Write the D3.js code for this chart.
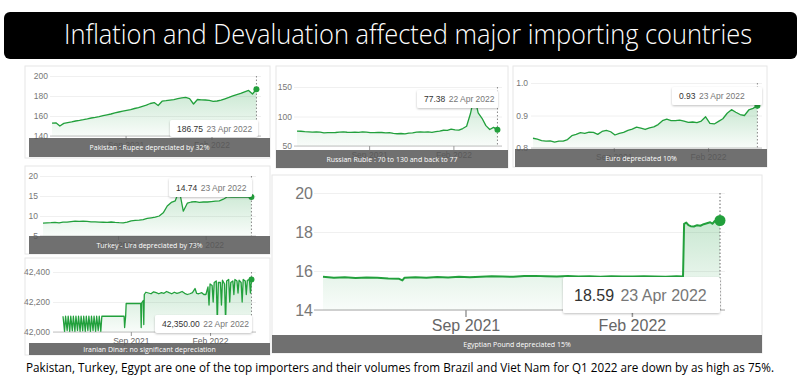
<!DOCTYPE html>
<html>
<head>
<meta charset="utf-8">
<script src="https://cdn.jsdelivr.net/npm/d3@7"></script>
<style>
body { margin: 0; background: #fff; }
svg { display: block; }
</style>
</head>
<body>
<div id="chart"></div>
<script>
var svgWidth = 800;
var svgHeight = 388;

var titleText = "Inflation and Devaluation affected major importing countries";
var footText = "Pakistan, Turkey, Egypt are one of the top importers and their volumes from Brazil and Viet Nam for Q1 2022 are down by as high as 75%.";

var startDate = new Date(2021, 3, 23);
var endDate = new Date(2022, 3, 23);
var tickDates = [new Date(2021, 8, 1), new Date(2022, 1, 1)];

// weekly closes from 23 Apr 2021 (one per week, 53 points)
var pkrValues = [152.8, 153.2, 150.0, 152.6, 153.4, 154.1, 155.0, 155.6, 156.3, 157.1,
    158.0, 158.6, 159.4, 160.3, 161.2, 162.0, 163.1, 164.0, 164.8, 165.6,
    166.4, 167.5, 168.4, 169.6, 170.8, 172.5, 173.4, 170.5, 174.8, 175.3,
    175.9, 176.4, 177.3, 178.1, 178.6, 177.4, 172.0, 176.5, 176.2, 176.0,
    175.6, 174.7, 175.0, 175.8, 177.2, 178.6, 180.1, 181.4, 182.6, 184.2,
    185.6, 182.0, 186.75];

var rubValues = [75.3, 75.0, 74.2, 74.0, 73.6, 73.9, 73.4, 72.3, 72.6,
    72.5, 72.9, 73.6, 73.8, 73.3, 73.2, 73.6, 73.0, 74.0,
    73.6, 72.8, 72.7, 72.9, 72.9, 72.4, 72.5, 71.4, 70.8,
    71.2, 70.6, 71.7, 72.3, 73.6, 74.0, 73.5, 73.8, 73.2,
    74.3, 75.3, 76.7, 76.4, 78.5, 77.2, 76.8, 79.6,
    83.5, 105.0, 135.0, 106.0, 97.0, 84.5, 78.0, 81.5, 77.38];

var eurValues = [0.830, 0.827, 0.823, 0.821, 0.822, 0.818, 0.821, 0.821, 0.826, 0.838,
    0.842, 0.847, 0.845, 0.849, 0.848, 0.842, 0.851, 0.854, 0.850, 0.840,
    0.845, 0.848, 0.854, 0.858, 0.864, 0.861, 0.857, 0.862, 0.865, 0.872,
    0.884, 0.889, 0.884, 0.884, 0.886, 0.883, 0.879, 0.880, 0.878, 0.883,
    0.896, 0.876, 0.874, 0.882, 0.890, 0.907, 0.918, 0.910, 0.903, 0.900,
    0.917, 0.922, 0.930];

var tryValues = [8.20, 8.28, 8.33, 8.42, 8.30, 8.45, 8.45, 8.60, 8.72, 8.65,
    8.70, 8.65, 8.55, 8.55, 8.48, 8.44, 8.40, 8.50, 8.40, 8.33,
    8.30, 8.45, 8.80, 8.90, 8.95, 9.10, 9.40, 9.55, 9.70, 10.0,
    10.8, 12.5, 13.4, 13.8, 16.5, 11.2, 13.2, 13.5, 13.6, 13.4,
    13.5, 13.5, 13.6, 13.7, 13.8, 14.2, 14.8, 14.7, 14.8, 14.7,
    14.7, 14.75, 14.74];

// irregular series: day offset from 23 Apr 2021 and value
var irrDays = [0, 3, 5, 8, 10, 13, 15, 18, 20, 23, 25, 28, 30, 33, 35, 38, 40, 43, 45, 48,
    50, 53, 55, 58, 60, 63, 65, 68, 70, 73, 75,
    100, 118, 119, 121, 122, 140, 150, 151, 152, 155, 156, 157, 160, 165, 170, 175, 180,
    185, 190, 195, 200, 205, 210, 215, 220, 225, 230, 235, 240, 245, 250, 255, 258, 262,
    268, 272, 276,
    280, 282, 284, 288, 290, 292, 296, 298, 300, 304, 306, 308, 312, 314, 316, 320, 322,
    324, 328, 330, 332, 336, 338, 340, 344, 346, 348, 352, 354, 356, 360, 362, 364];
var irrValues = [42105, 42005, 42105, 42010, 42105, 42005, 42105, 42008, 42105, 42005,
    42105, 42010, 42105, 42005, 42105, 42008, 42105, 42005, 42105, 42010,
    42105, 42005, 42105, 42010, 42105, 42005, 42105, 42010, 42105, 42005, 42105,
    42105, 42105, 42030, 42105, 42190, 42190, 42190, 42030, 42195, 42210, 42050, 42250,
    42265, 42260, 42255, 42268, 42262, 42255, 42262, 42258, 42270, 42262, 42255, 42265,
    42258, 42262, 42270, 42258, 42250, 42255, 42262, 42290, 42258, 42255,
    42262, 42250, 42250,
    42300, 42180, 42320, 42310, 42200, 42330, 42340, 42060, 42330, 42330, 42180, 42345,
    42320, 42060, 42340, 42350, 42200, 42330, 42340, 42250, 42350, 42340, 42260, 42345,
    42330, 42200, 42350, 42340, 42250, 42345, 42350, 42260, 42350];

var egpDays = [0, 10, 20, 30, 40, 50, 60, 70, 73, 75, 85, 95, 105, 115, 125, 135, 145,
    155, 165, 175, 185, 195, 205, 215, 225, 235, 245, 255, 265, 275, 285, 295, 305,
    315, 325, 331, 332, 334, 336, 338, 341, 344, 347, 350, 353, 356, 358, 360, 362, 365];
var egpValues = [15.70, 15.66, 15.68, 15.64, 15.67, 15.66, 15.62, 15.60, 15.52, 15.66,
    15.68, 15.65, 15.69, 15.67, 15.70, 15.68, 15.71, 15.73, 15.72, 15.70,
    15.74, 15.75, 15.73, 15.72, 15.74, 15.72, 15.73, 15.71, 15.73, 15.72,
    15.72, 15.73, 15.72, 15.71, 15.73, 15.72, 18.42, 18.48, 18.35, 18.30,
    18.28, 18.35, 18.32, 18.40, 18.45, 18.50, 18.42, 18.55, 18.60, 18.59];

function weekly(values) {
    return values.map((v, i) => ({ date: d3.timeDay.offset(startDate, i * 7), value: v }));
}
function byDay(days, values) {
    return days.map((d, i) => ({ date: d3.timeDay.offset(startDate, d), value: values[i] }));
}

var panels = [
    { data: weekly(pkrValues), yDomain: [140, 200], yTicks: [140, 160, 180, 200], fmt: d3.format("d"),
      x0: 52, x1: 257, yTop: 76, yBot: 136, gridLeft: 50, pad: 2, fs: 8.5,
      tip: [170, 120, 258, 137], tipVal: "186.75", tipDate: "23 Apr 2022", tfs: 8.5,
      bar: [29, 138, 270, 157], caption: "Pakistan : Rupee depreciated by 32%", frame: [25, 66, 270, 158] },
    { data: weekly(rubValues), yDomain: [50, 150], yTicks: [50, 100, 150], fmt: d3.format("d"),
      x0: 297, x1: 498, yTop: 87, yBot: 146, gridLeft: 294, pad: 2, fs: 8.5,
      tip: [417, 90, 498, 108], tipVal: "77.38", tipDate: "22 Apr 2022", tfs: 8.5,
      bar: [276, 150, 508, 168], caption: "Russian Ruble : 70 to 130 and back to 77", frame: [276, 66, 508, 168] },
    { data: weekly(eurValues), yDomain: [0.8, 1.0], yTicks: [0.8, 0.9, 1.0], fmt: d3.format(".1f"),
      x0: 533, x1: 758, yTop: 83, yBot: 148, gridLeft: 531, pad: 3, fs: 8.5,
      tip: [672, 87, 762, 105], tipVal: "0.93", tipDate: "23 Apr 2022", tfs: 8.5,
      bar: [515, 149, 767, 167], caption: "Euro depreciated 10%", frame: [513, 66, 767, 167] },
    { data: weekly(tryValues), yDomain: [5, 20], yTicks: [5, 10, 15, 20], fmt: d3.format("d"),
      x0: 43, x1: 252, yTop: 176, yBot: 236, gridLeft: 40, pad: 2, fs: 8.5,
      tip: [169, 178, 252, 197], tipVal: "14.74", tipDate: "23 Apr 2022", tfs: 8.5,
      bar: [29, 236, 270, 254], caption: "Turkey - Lira  depreciated by 73%", frame: [25, 166, 270, 254] },
    { data: byDay(irrDays, irrValues), yDomain: [42000, 42400], yTicks: [42000, 42200, 42400], fmt: d3.format(","),
      x0: 63, x1: 252, yTop: 272, yBot: 332, gridLeft: 53, pad: 3, fs: 8.5,
      tip: [155, 315, 252, 333], tipVal: "42,350.00", tipDate: "22 Apr 2022", tfs: 8.5,
      bar: [29, 343, 270, 355], caption: "Iranian Dinar: no significant depreciation", frame: [25, 258, 270, 355] },
    { data: byDay(egpDays, egpValues), yDomain: [14, 20], yTicks: [14, 16, 18, 20], fmt: d3.format("d"),
      x0: 323, x1: 720, yTop: 193, yBot: 310, gridLeft: 314, pad: 1, fs: 16, big: true,
      tip: [563, 277, 720, 313], tipVal: "18.59", tipDate: "23 Apr 2022", tfs: 16,
      bar: [272, 335, 762, 353], caption: "Egyptian Pound  depreciated 15%", frame: [272, 175, 762, 353] }
];

var svg = d3.select("#chart")
    .append("svg")
    .attr("width", svgWidth)
    .attr("height", svgHeight);

var defs = svg.append("defs");
var grad = defs.append("linearGradient")
    .attr("id", "fillGrad")
    .attr("x1", 0).attr("y1", 0).attr("x2", 0).attr("y2", 1);
grad.append("stop").attr("offset", "0%").attr("stop-color", "#2ea44f").attr("stop-opacity", 0.26);
grad.append("stop").attr("offset", "100%").attr("stop-color", "#2ea44f").attr("stop-opacity", 0.03);

var shadow = defs.append("filter").attr("id", "tipShadow")
    .attr("x", "-20%").attr("y", "-30%").attr("width", "140%").attr("height", "160%");
shadow.append("feDropShadow").attr("dx", 0).attr("dy", 1).attr("stdDeviation", 1.2)
    .attr("flood-color", "#000").attr("flood-opacity", 0.25);

// title
svg.append("rect")
    .attr("x", 4).attr("y", 12)
    .attr("width", 793).attr("height", 47)
    .attr("rx", 6)
    .attr("fill", "#000");
svg.append("text")
    .attr("x", 408).attr("y", 44)
    .attr("text-anchor", "middle")
    .attr("textLength", 688)
    .attr("lengthAdjust", "spacingAndGlyphs")
    .style("font", "300 27px 'Open Sans', sans-serif")
    .attr("fill", "#fff")
    .text(titleText);

panels.forEach(drawPanel);

function drawPanel(p) {
    var g = svg.append("g");
    var labelFont = p.fs + "px 'Liberation Sans', Arial, sans-serif";

    var x = d3.scaleTime().domain([startDate, endDate]).range([p.x0, p.x1]);
    var y = d3.scaleLinear().domain(p.yDomain).range([p.yBot, p.yTop]);
    var gridRight = p.x1 + (p.big ? 5 : 4);

    g.append("rect")
        .attr("x", p.frame[0]).attr("y", p.frame[1])
        .attr("width", p.frame[2] - p.frame[0]).attr("height", p.frame[3] - p.frame[1])
        .attr("fill", "none")
        .attr("stroke", "#e6e6e6");

    // y gridlines + labels
    g.append("g")
        .attr("transform", `translate(${p.gridLeft},0)`)
        .call(d3.axisLeft(y).tickValues(p.yTicks).tickFormat(p.fmt)
            .tickSize(-(gridRight - p.gridLeft)).tickPadding(p.pad))
        .call(a => a.select(".domain").remove())
        .call(a => a.selectAll("line").attr("stroke", "#f0f0f0"))
        .call(a => a.selectAll("text").attr("fill", "#777").style("font", labelFont));

    // baseline
    g.append("line")
        .attr("x1", p.gridLeft).attr("x2", gridRight)
        .attr("y1", y(p.yDomain[0])).attr("y2", y(p.yDomain[0]))
        .attr("stroke", "#c4c4c4")
        .attr("stroke-width", p.big ? 1.5 : 1);

    // x axis ticks
    g.append("g")
        .attr("transform", `translate(0,${p.yBot})`)
        .call(d3.axisBottom(x).tickValues(tickDates).tickFormat(d3.timeFormat("%b %Y"))
            .tickSize(p.big ? 7 : 4).tickPadding(p.big ? 3 : 2))
        .call(a => a.select(".domain").remove())
        .call(a => a.selectAll("line").attr("stroke", "#999").attr("stroke-width", p.big ? 1.5 : 1))
        .call(a => a.selectAll("text").attr("fill", "#666").style("font", labelFont));

    var area = d3.area()
        .x(d => x(d.date))
        .y0(y(p.yDomain[0]))
        .y1(d => y(d.value));
    var line = d3.line()
        .x(d => x(d.date))
        .y(d => y(d.value));

    g.append("path")
        .datum(p.data)
        .attr("d", area)
        .attr("fill", "url(#fillGrad)");

    // end marker
    var last = p.data[p.data.length - 1];
    g.append("line")
        .attr("x1", x(last.date)).attr("x2", x(last.date))
        .attr("y1", p.yTop).attr("y2", p.yBot)
        .attr("stroke", "#888")
        .attr("stroke-width", p.big ? 1.3 : 1)
        .attr("stroke-dasharray", "1.5,2");

    g.append("path")
        .datum(p.data)
        .attr("d", line)
        .attr("fill", "none")
        .attr("stroke", "#22a03c")
        .attr("stroke-width", p.big ? 2 : 1.3)
        .attr("stroke-linejoin", "round");

    g.append("circle")
        .attr("cx", x(last.date))
        .attr("cy", y(last.value))
        .attr("r", p.big ? 5.5 : 3)
        .attr("fill", "#22a03c");

    // tooltip
    var t = p.tip;
    g.append("rect")
        .attr("x", t[0]).attr("y", t[1])
        .attr("width", t[2] - t[0]).attr("height", t[3] - t[1])
        .attr("rx", 2)
        .attr("fill", "#fff")
        .attr("filter", "url(#tipShadow)");
    var tt = g.append("text")
        .attr("x", t[0] + (p.big ? 11 : 7))
        .attr("y", (t[1] + t[3]) / 2 + p.tfs * 0.36)
        .style("font", p.tfs + "px 'Liberation Sans', Arial, sans-serif");
    tt.append("tspan").attr("fill", "#333").style("font-weight", 500).text(p.tipVal);
    tt.append("tspan").attr("fill", "#777").attr("dx", p.tfs * 0.4).text(p.tipDate);

    // caption bar
    var b = p.bar;
    g.append("rect")
        .attr("x", b[0]).attr("y", b[1])
        .attr("width", b[2] - b[0]).attr("height", b[3] - b[1])
        .attr("fill", "#585858")
        .attr("opacity", 0.86);
    g.append("text")
        .attr("x", (b[0] + b[2]) / 2)
        .attr("y", (b[1] + b[3]) / 2 + 2.5)
        .attr("text-anchor", "middle")
        .attr("fill", "#fff")
        .style("font", "7px 'Open Sans', sans-serif")
        .text(p.caption);
}

// footer
svg.append("text")
    .attr("x", 400).attr("y", 372)
    .attr("text-anchor", "middle")
    .attr("textLength", 748)
    .attr("lengthAdjust", "spacingAndGlyphs")
    .style("font", "13px 'Open Sans', sans-serif")
    .attr("fill", "#000")
    .text(footText);
</script>
</body>
</html>
